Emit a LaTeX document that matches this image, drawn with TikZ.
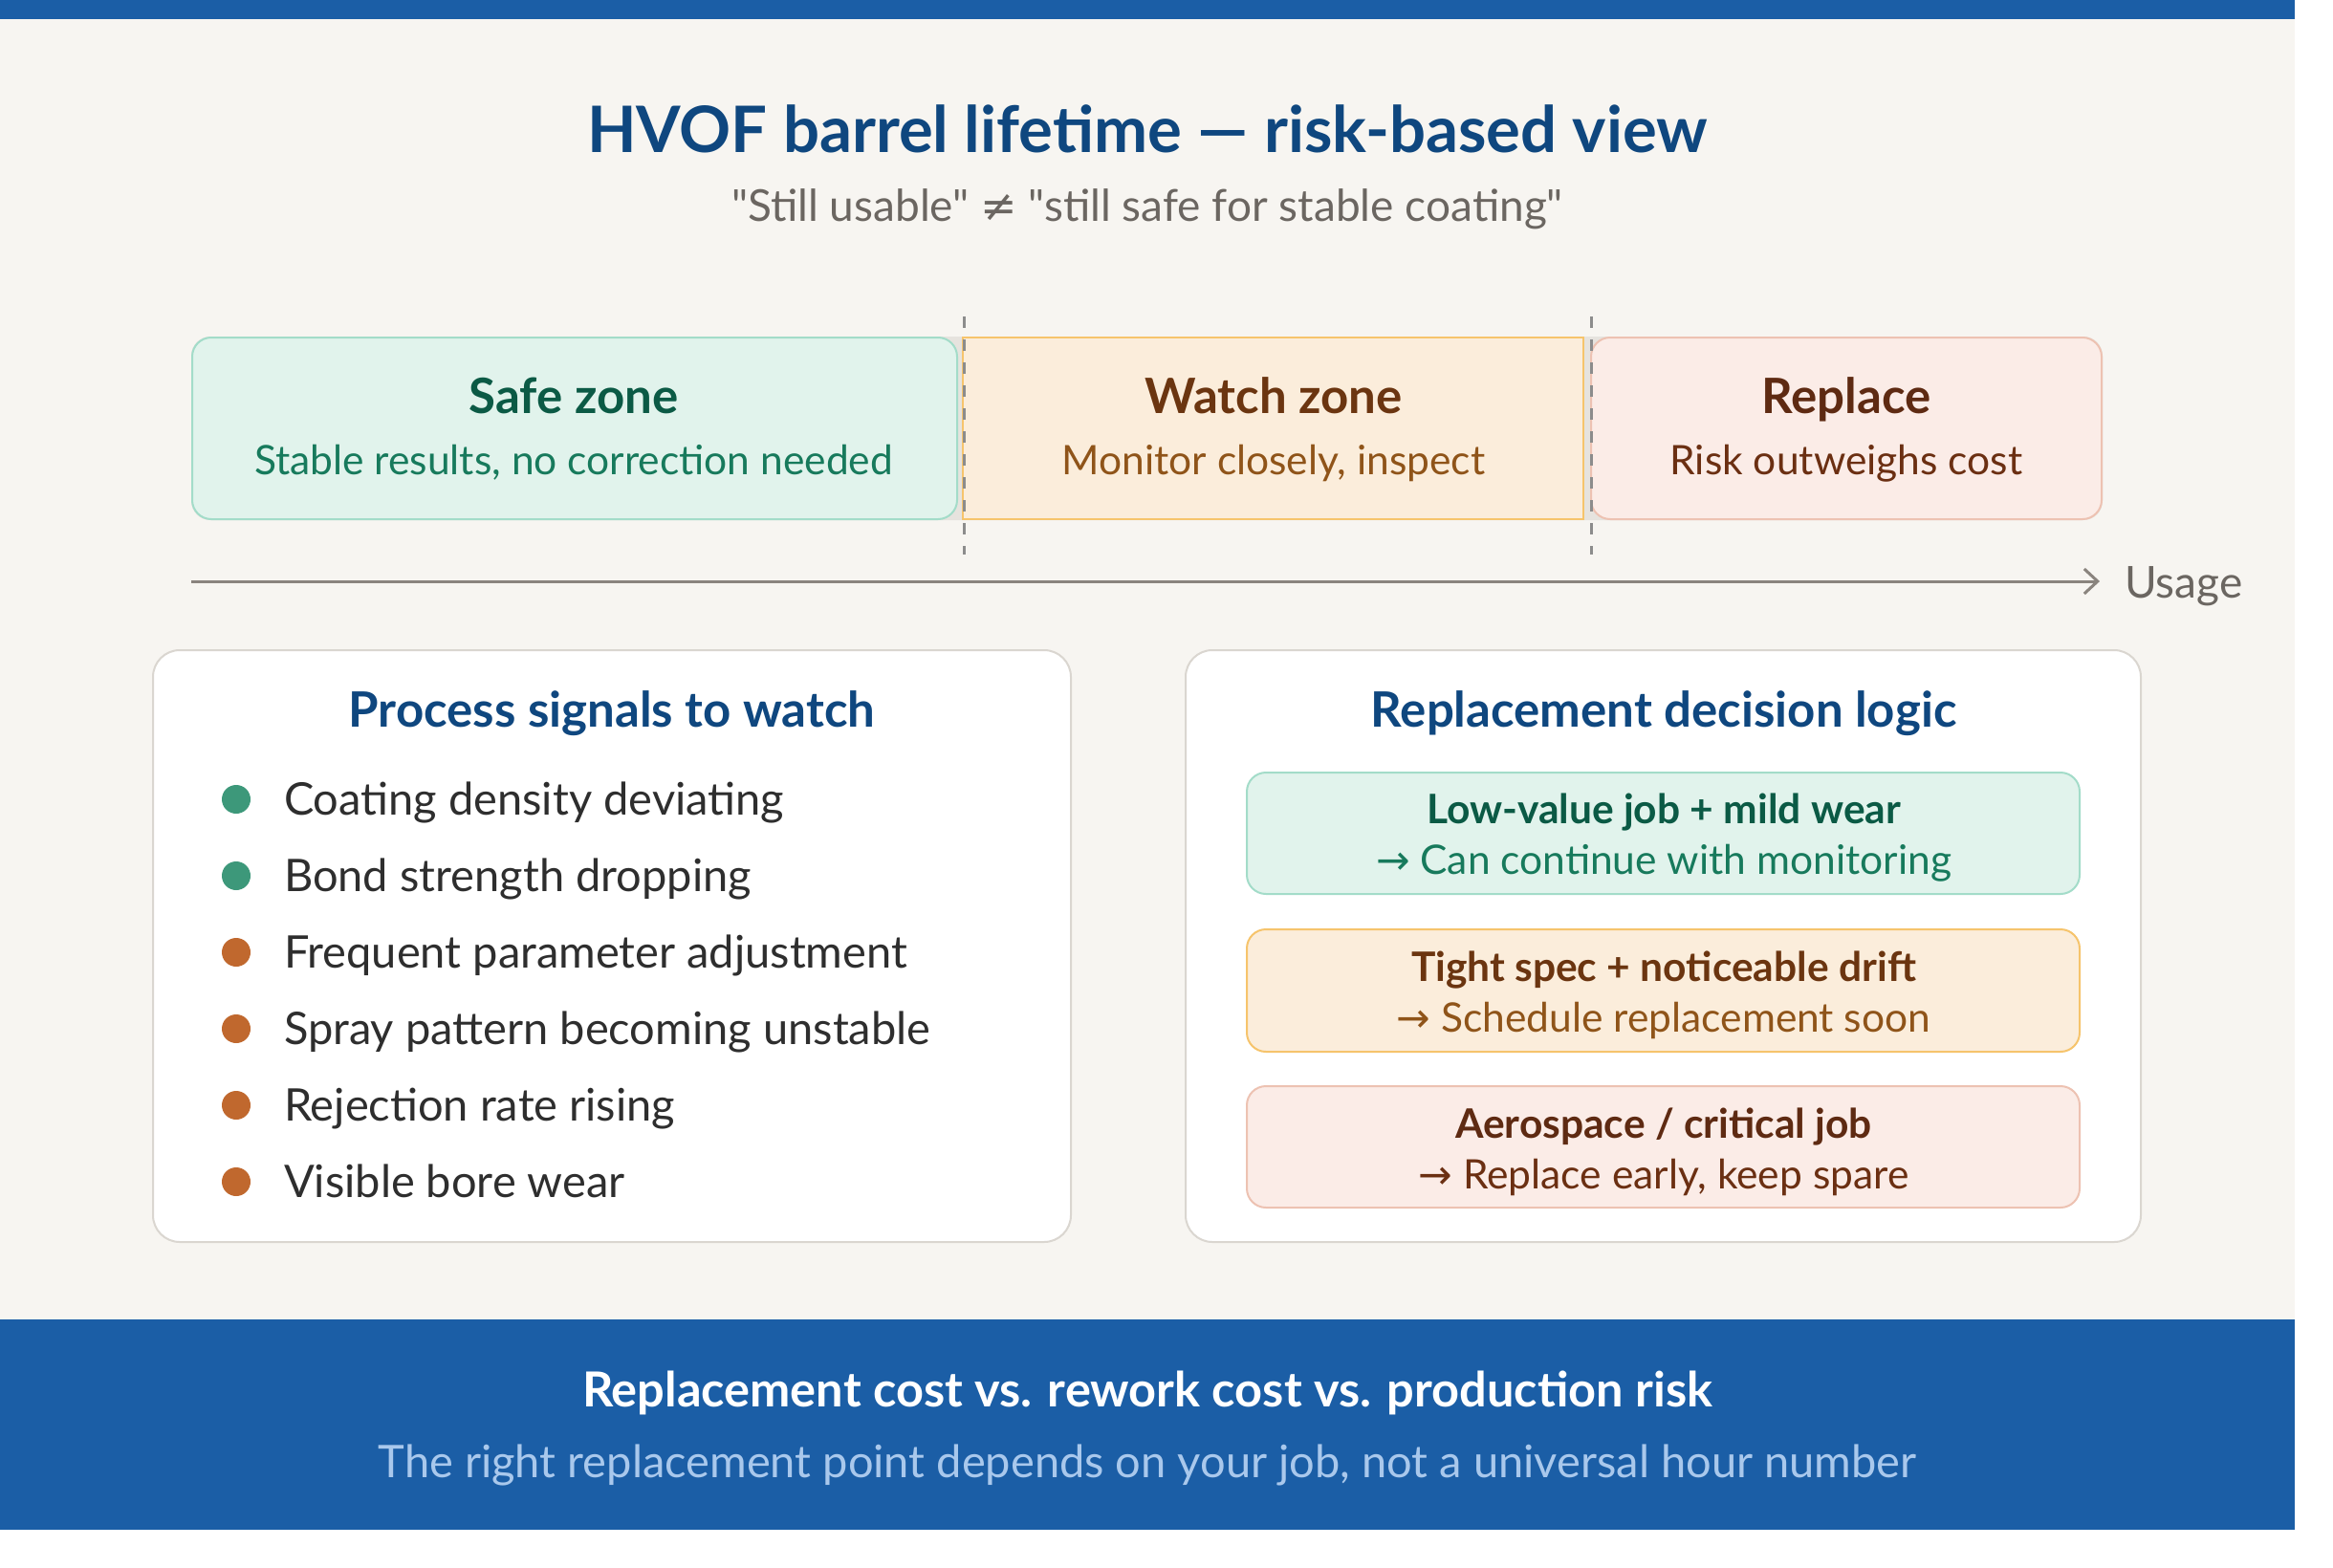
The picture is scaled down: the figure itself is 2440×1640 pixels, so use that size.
\documentclass[tikz,border=0pt]{standalone}
\usepackage{fontspec}
\setmainfont{Lato}
\newfontfamily\symfont{DejaVu Sans}
\newfontfamily\quotefont{Lato}[Ligatures=TeXOff]
\usetikzlibrary{arrows.meta}
\definecolor{bgc}{HTML}{F7F5F1}
\definecolor{bluebar}{HTML}{1B5EA6}
\definecolor{titleblue}{HTML}{0F477F}
\definecolor{subgray}{HTML}{6B6661}
\definecolor{trackgray}{HTML}{E6E3DE}
\definecolor{safefill}{HTML}{E1F3EC}
\definecolor{safedraw}{HTML}{A3DCC9}
\definecolor{safetitle}{HTML}{0B5A45}
\definecolor{safesub}{HTML}{177A5C}
\definecolor{watchfill}{HTML}{FBEDDB}
\definecolor{watchdraw}{HTML}{F6C46C}
\definecolor{watchtitle}{HTML}{6B3510}
\definecolor{watchsub}{HTML}{8F5419}
\definecolor{repfill}{HTML}{FBECE7}
\definecolor{repdraw}{HTML}{EDC2B2}
\definecolor{reptitle}{HTML}{5E2A12}
\definecolor{repsub}{HTML}{6B2F12}
\definecolor{dotgreen}{HTML}{3D987A}
\definecolor{dotorange}{HTML}{C0682E}
\definecolor{itemtext}{HTML}{2E2E2E}
\definecolor{panelborder}{HTML}{DAD6D0}
\definecolor{axisgray}{HTML}{8A847E}
\definecolor{dashgray}{HTML}{8C8C8C}
\definecolor{bandsub}{HTML}{A9C8EC}
\tikzset{
  txt/.style={inner sep=0pt, outer sep=0pt, anchor=base},
  zonetitle/.style={txt, font=\fontsize{51}{60}\selectfont\bfseries},
  zonesub/.style={txt, font=\fontsize{42.5}{50}\selectfont},
  paneltitle/.style={txt, font=\fontsize{51}{60}\selectfont\bfseries, text=titleblue},
  item/.style={txt, anchor=base west, font=\fontsize{47}{56}\selectfont, text=itemtext},
  dotgreenst/.style={circle, fill=dotgreen, minimum size=30pt, inner sep=0pt},
  dotorangest/.style={circle, fill=dotorange, minimum size=30pt, inner sep=0pt},
  panel/.style={fill=white, draw=panelborder, line width=2pt, rounded corners=28pt},
  boxline1/.style={txt, font=\fontsize{42.5}{50}\selectfont\bfseries},
  boxline2/.style={txt, font=\fontsize{42.5}{50}\selectfont},
  zonedash/.style={draw=dashgray, line width=3pt, dash pattern=on 12pt off 12pt},
}
\begin{document}
\begin{tikzpicture}[x=1pt, y=-1pt]
\useasboundingbox (0,0) rectangle (2440,1640);
\fill[white] (0,0) rectangle (2440,1640);
\fill[bgc] (0,0) rectangle (2400,1600);
\fill[bluebar] (0,0) rectangle (2400,20);
\fill[bluebar] (0,1380) rectangle (2400,1600);

% title
\node[txt, font=\fontsize{67}{78}\selectfont\bfseries, text=titleblue] (title) at (1200,160) {HVOF barrel lifetime — risk-based view};
\node[txt, font=\fontsize{46}{54}\selectfont\quotefont, text=subgray] (subtitle) at (1200,231.5) {"Still usable" {\symfont ≠} "still safe for stable coating"};

% zone track
\fill[trackgray, rounded corners=20pt] (200,352) rectangle (2199,544);
\draw[fill=safefill, draw=safedraw, line width=2pt, rounded corners=20pt] (201,353) rectangle (1001,543);
\draw[fill=watchfill, draw=watchdraw, line width=2pt] (1007,353) rectangle (1656,543);
\draw[fill=repfill, draw=repdraw, line width=2pt, rounded corners=20pt] (1664,353) rectangle (2198,543);

\node[zonetitle, text=safetitle] (safet) at (600,432) {Safe zone};
\node[zonesub, text=safesub] (safes) at (600,496) {Stable results, no correction needed};
\node[zonetitle, text=watchtitle] (watcht) at (1332,432) {Watch zone};
\node[zonesub, text=watchsub] (watchs) at (1332,496) {Monitor closely, inspect};
\node[zonetitle, text=reptitle] (rept) at (1931,432) {Replace};
\node[zonesub, text=repsub] (reps) at (1931,496) {Risk outweighs cost};

% dashed boundaries
\coordinate (d1a) at (1008,331); \coordinate (d1b) at (1008,580);
\coordinate (d2a) at (1664,331); \coordinate (d2b) at (1664,580);
\draw[zonedash] (d1a) -- (d1b);
\draw[zonedash] (d2a) -- (d2b);

% usage axis
\coordinate (ax0) at (200,608);
\node[txt, anchor=base west, font=\fontsize{46}{54}\selectfont, text=subgray] (usage) at (2222,625) {Usage};
\coordinate (ax1) at (2196,608);
\draw[axisgray, line width=3pt, -{Straight Barb[length=14pt, width=26pt, line width=3pt]}] (ax0) -- (ax1);

% left panel
\draw[panel] (160,680) rectangle (1120,1299);
\node[paneltitle] (lt) at (640,760) {Process signals to watch};
\node[dotgreenst] (b1) at (247,836) {};
\node[dotgreenst] (b2) at (247,916) {};
\node[dotorangest] (b3) at (247,996) {};
\node[dotorangest] (b4) at (247,1076) {};
\node[dotorangest] (b5) at (247,1156) {};
\node[dotorangest] (b6) at (247,1236) {};
\node[item] (i1) at (297,852.5) {Coating density deviating};
\node[item] (i2) at (297,932.5) {Bond strength dropping};
\node[item] (i3) at (297,1012.5) {Frequent parameter adjustment};
\node[item] (i4) at (297,1092.5) {Spray pattern becoming unstable};
\node[item] (i5) at (297,1172.5) {Rejection rate rising};
\node[item] (i6) at (297,1252.5) {Visible bore wear};

% right panel
\draw[panel] (1240,680) rectangle (2239,1299);
\node[paneltitle] (rt) at (1740,760) {Replacement decision logic};
\draw[fill=safefill, draw=safedraw, line width=2pt, rounded corners=20pt] (1304,808) rectangle (2175,935);
\draw[fill=watchfill, draw=watchdraw, line width=2pt, rounded corners=20pt] (1304,972) rectangle (2175,1100);
\draw[fill=repfill, draw=repdraw, line width=2pt, rounded corners=20pt] (1304,1136) rectangle (2175,1263);
\node[boxline1, text=safetitle] (c1a) at (1740,861) {Low-value job + mild wear};
\node[boxline2, text=safesub] (c1b) at (1740,914) {{\symfont →} Can continue with monitoring};
\node[boxline1, text=watchtitle] (c2a) at (1740,1026) {Tight spec + noticeable drift};
\node[boxline2, text=watchsub] (c2b) at (1740,1079) {{\symfont →} Schedule replacement soon};
\node[boxline1, text=reptitle] (c3a) at (1740,1190) {Aerospace / critical job};
\node[boxline2, text=repsub] (c3b) at (1740,1243) {{\symfont →} Replace early, keep spare};

% bottom band text
\node[txt, font=\fontsize{50.5}{60}\selectfont\bfseries, text=white] (bt) at (1200,1471.5) {Replacement cost vs. rework cost vs. production risk};
\node[txt, font=\fontsize{47}{56}\selectfont, text=bandsub] (bs) at (1200,1545) {The right replacement point depends on your job, not a universal hour number};
\end{tikzpicture}
\end{document}
